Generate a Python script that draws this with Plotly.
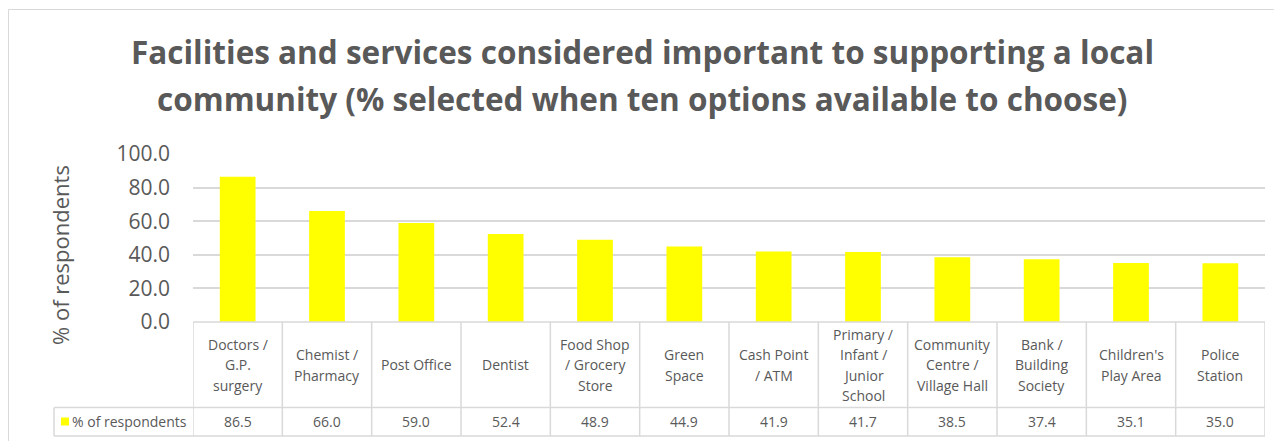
import plotly.graph_objects as go

# ---- data ----
categories = [
    "Doctors / G.P. surgery", "Chemist / Pharmacy", "Post Office", "Dentist",
    "Food Shop / Grocery Store", "Green Space", "Cash Point / ATM",
    "Primary / Infant / Junior School", "Community Centre / Village Hall",
    "Bank / Building Society", "Children's Play Area", "Police Station",
]
category_lines = [
    ["Doctors /", "G.P.", "surgery"],
    ["Chemist /", "Pharmacy"],
    ["Post Office"],
    ["Dentist"],
    ["Food Shop", "/ Grocery", "Store"],
    ["Green", "Space"],
    ["Cash Point", "/ ATM"],
    ["Primary /", "Infant /", "Junior", "School"],
    ["Community", "Centre /", "Village Hall"],
    ["Bank /", "Building", "Society"],
    ["Children's", "Play Area"],
    ["Police", "Station"],
]
values = [86.5, 66.0, 59.0, 52.4, 48.9, 44.9, 41.9, 41.7, 38.5, 37.4, 35.1, 35.0]
series_name = "% of respondents"
y_ticks = [0, 20, 40, 60, 80, 100]
title_lines = [
    "Facilities and services considered important to supporting a local",
    "community (% selected when ten options available to choose)",
]

# ---- layout geometry (page pixels; the page body adds an 8px offset) ----
W, H = 1282, 441
OFF = 8
L, R, T, B = 193, 1265, 154, 322
ROW1_BOT, ROW2_BOT = 407.5, 436
LEG_LEFT = 54
TXT = "#595959"
GRID = "#d9d9d9"
FONT = "Open Sans"


def px(xp):
    return (xp - L) / (R - L)


def py(yp):
    return (B - yp) / (B - T)


fig = go.Figure()
fig.add_trace(go.Bar(x=categories, y=values, name=series_name,
                     marker=dict(color="#FFFF00", line=dict(width=0))))

shapes = []
annotations = []

# outer chart border
shapes.append(dict(type="rect", xref="paper", yref="paper",
                   x0=px(8.5), x1=px(W + 40), y0=py(H + 40), y1=py(9.5),
                   line=dict(color=GRID, width=1), fillcolor="rgba(0,0,0,0)", layer="below"))

# table horizontal lines
shapes.append(dict(type="line", xref="paper", yref="paper", x0=0, x1=1, y0=py(B), y1=py(B),
                   line=dict(color=GRID, width=1.5)))
for yy in (ROW1_BOT, ROW2_BOT):
    shapes.append(dict(type="line", xref="paper", yref="paper", x0=px(LEG_LEFT), x1=1,
                       y0=py(yy), y1=py(yy), line=dict(color=GRID, width=1.5)))
# table vertical lines
for i in range(len(categories) + 1):
    shapes.append(dict(type="line", xref="x", yref="paper", x0=i - 0.5, x1=i - 0.5,
                       y0=py(B), y1=py(ROW2_BOT), line=dict(color=GRID, width=1.5)))
shapes.append(dict(type="line", xref="paper", yref="paper", x0=px(LEG_LEFT), x1=px(LEG_LEFT),
                   y0=py(ROW1_BOT), y1=py(ROW2_BOT), line=dict(color=GRID, width=1.5)))

# category labels and values
hdr_mid = (B + ROW1_BOT) / 2
val_mid = (ROW1_BOT + ROW2_BOT) / 2
LINE_H = 20.5
for cat, lines, v in zip(categories, category_lines, values):
    n = len(lines)
    for j, t in enumerate(lines):
        annotations.append(dict(x=cat, xref="x", yref="paper",
                                y=py(hdr_mid + (j - (n - 1) / 2) * LINE_H),
                                text=t, showarrow=False, xanchor="center", yanchor="middle",
                                font=dict(family=FONT, size=14, color=TXT)))
    annotations.append(dict(x=cat, xref="x", yref="paper", y=py(val_mid),
                            text=f"{v:.1f}", showarrow=False, xanchor="center", yanchor="middle",
                            font=dict(family=FONT, size=14, color=TXT)))

# legend key in table
shapes.append(dict(type="rect", xref="paper", yref="paper", x0=px(61), x1=px(69),
                   y0=py(425.5), y1=py(417.5), fillcolor="#FFFF00", line=dict(width=0)))
annotations.append(dict(x=px(70), y=py(val_mid), xref="paper", yref="paper", text=series_name,
                        showarrow=False, xanchor="left", yanchor="middle",
                        font=dict(family=FONT, size=14, color=TXT)))

# y axis title
annotations.append(dict(x=px(60), y=py(255), xref="paper", yref="paper", text=series_name,
                        textangle=-90, showarrow=False, xanchor="center", yanchor="middle",
                        font=dict(family=FONT, size=22, color=TXT)))

# title
for yy, t in zip((51, 98), title_lines):
    annotations.append(dict(x=px(642), y=py(yy), xref="paper", yref="paper",
                            text=f"<b>{t}</b>", showarrow=False, xanchor="center", yanchor="middle",
                            font=dict(family=FONT, size=31.5, color=TXT)))

fig.update_layout(
    width=W, height=H,
    margin=dict(l=L - OFF, r=W - (R - OFF), t=T - OFF, b=H - (B - OFF), pad=0),
    paper_bgcolor="white", plot_bgcolor="white",
    showlegend=False, bargap=0.6,
    shapes=shapes, annotations=annotations,
    xaxis=dict(range=[-0.5, len(categories) - 0.5], showticklabels=False, showgrid=False,
               zeroline=False, showline=False, ticks=""),
    yaxis=dict(range=[0, 100], tickvals=y_ticks, tickformat=".1f", showgrid=True,
               gridcolor=GRID, gridwidth=1.5, zeroline=False, showline=False, ticks="",
               ticklabelstandoff=22,
               tickfont=dict(family=FONT, size=21, color=TXT)),
)

fig.write_html("out.html")
